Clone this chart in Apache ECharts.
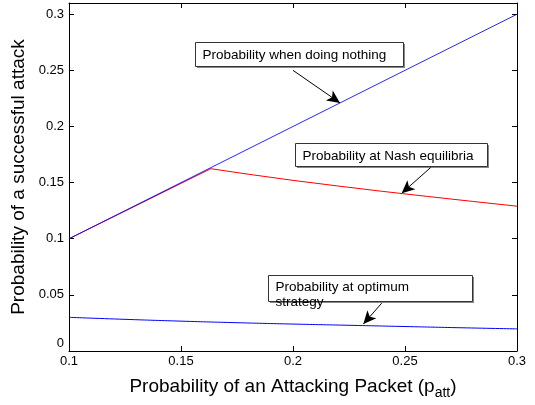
<!DOCTYPE html>
<html>
<head>
<meta charset="utf-8">
<script src="https://cdn.jsdelivr.net/npm/echarts@6/dist/echarts.min.js"></script>
<style>
html,body{margin:0;padding:0;background:#fff;}
#chart{width:535px;height:405px;}
</style>
</head>
<body>
<div id="chart"></div>
<script>
// ---- data ----
const xTicks = [0.1, 0.15, 0.2, 0.25, 0.3];
const yTicks = [0, 0.05, 0.1, 0.15, 0.2, 0.25, 0.3];

const nothingX = [0.1, 0.3];
const nothingY = [0.1, 0.3];

const nashX = [0.1, 0.1633, 0.18, 0.2, 0.22, 0.24, 0.26, 0.28, 0.3];
const nashY = [0.1, 0.1624, 0.1575, 0.1520, 0.1470, 0.1422, 0.1377, 0.1333, 0.1290];

const optX = [0.1, 0.125, 0.15, 0.175, 0.2, 0.225, 0.25, 0.275, 0.3];
const optY = [0.0300, 0.0282, 0.0266, 0.0252, 0.0240, 0.0229, 0.0218, 0.0207, 0.0197];

const annoLabels = ['Probability when doing nothing', 'Probability at Nash equilibria', 'Probability at optimum\nstrategy'];
const arrowFrom = [[0.2, 0.25], [0.2615, 0.1635], [0.2396, 0.0426]];
const arrowTo = [[0.221, 0.221], [0.2485, 0.1405], [0.2314, 0.0240]];

const zip = (xs, ys) => xs.map((x, i) => [x, ys[i]]);
const fmt = v => String(+v.toFixed(3));

const chart = echarts.init(document.getElementById('chart'), null, {renderer: 'canvas'});
const FONT = 'Liberation Sans, Arial, sans-serif';

const boxes = [
  {x: 195, y: 42, w: 208, h: 24},
  {x: 295, y: 143, w: 192, h: 23},
  {x: 268, y: 275, w: 204, h: 26}
];

const option = {
  animation: false,
  backgroundColor: '#fff',
  grid: {left: 69, right: 18, top: 3, bottom: 53, containLabel: false},
  xAxis: [{
    type: 'value', min: 0.1, max: 0.3, interval: 0.05,
    axisLine: {show: true, onZero: false, lineStyle: {color: '#000', width: 1}},
    axisTick: {show: true, inside: true, length: 5, lineStyle: {color: '#000'}},
    axisLabel: {color: '#000', fontSize: 13, fontFamily: FONT, margin: 4, formatter: fmt},
    splitLine: {show: false},
    name: 'Probability of an Attacking Packet (p{sub|att})',
    nameLocation: 'middle', nameGap: 23,
    nameTextStyle: {color: '#000', fontSize: 19, fontFamily: FONT,
      rich: {sub: {fontSize: 14, fontFamily: FONT, color: '#000', verticalAlign: 'bottom', padding: [12, 0, 0, 0]}}}
  }, {
    type: 'value', position: 'top', min: 0.1, max: 0.3, interval: 0.05,
    axisLine: {show: true, onZero: false, lineStyle: {color: '#000'}},
    axisTick: {show: true, inside: true, length: 5, lineStyle: {color: '#000'}},
    axisLabel: {show: false}, splitLine: {show: false}
  }],
  yAxis: [{
    type: 'value', min: 0, max: 0.31, interval: 0.05,
    axisLine: {show: true, onZero: false, lineStyle: {color: '#000', width: 1}},
    axisTick: {show: true, inside: true, length: 5, lineStyle: {color: '#000'}},
    axisLabel: {color: '#000', fontSize: 13, fontFamily: FONT, margin: 5, showMaxLabel: false,
      formatter: v => v === 0 ? '{z|0}' : fmt(v),
      rich: {z: {fontSize: 13, fontFamily: FONT, color: '#000', padding: [0, 0, 16, 0]}}},
    splitLine: {show: false},
    name: 'Probability of a successful attack',
    nameLocation: 'middle', nameGap: 36,
    nameTextStyle: {color: '#000', fontSize: 19, fontFamily: FONT}
  }, {
    type: 'value', position: 'right', min: 0, max: 0.31, interval: 0.05,
    axisLine: {show: true, onZero: false, lineStyle: {color: '#000'}},
    axisTick: {show: true, inside: true, length: 5, lineStyle: {color: '#000'}},
    axisLabel: {show: false}, splitLine: {show: false}
  }],
  series: [
    {
      name: 'Nash', type: 'line', data: zip(nashX, nashY), showSymbol: false, smooth: false,
      lineStyle: {color: '#ff0000', width: 1}, z: 2
    },
    {
      name: 'Nothing', type: 'line', data: zip(nothingX, nothingY), showSymbol: false,
      lineStyle: {color: '#0000ff', width: 1, opacity: 0.85}, z: 3
    },
    {
      name: 'Optimum', type: 'line', data: zip(optX, optY), showSymbol: false, smooth: true,
      lineStyle: {color: '#0000ff', width: 1}, z: 3
    },
    {
      name: 'arrows', type: 'line', data: [], z: 5,
      markLine: {
        silent: true, animation: false,
        symbol: ['none', 'arrow'], symbolSize: [9, 13],
        lineStyle: {color: '#000', width: 1, type: 'solid'},
        label: {show: false},
        data: arrowFrom.map((f, i) => [{coord: f}, {coord: arrowTo[i]}])
      }
    }
  ],
  graphic: boxes.map((b, i) => ({
    type: 'group', left: b.x, top: b.y, z: 10,
    children: [
      {type: 'rect', shape: {x: 1.5, y: 1.5, width: b.w, height: b.h}, style: {fill: '#888'}},
      {type: 'rect', shape: {x: 0, y: 0, width: b.w, height: b.h}, style: {fill: '#fff', stroke: '#333', lineWidth: 1}},
      {type: 'text', x: 7, y: i === 2 ? 4 : 5, style: {text: annoLabels[i], fill: '#000', font: '13.5px ' + FONT, lineHeight: 15}}
    ]
  }))
};
chart.setOption(option);
</script>
</body>
</html>
